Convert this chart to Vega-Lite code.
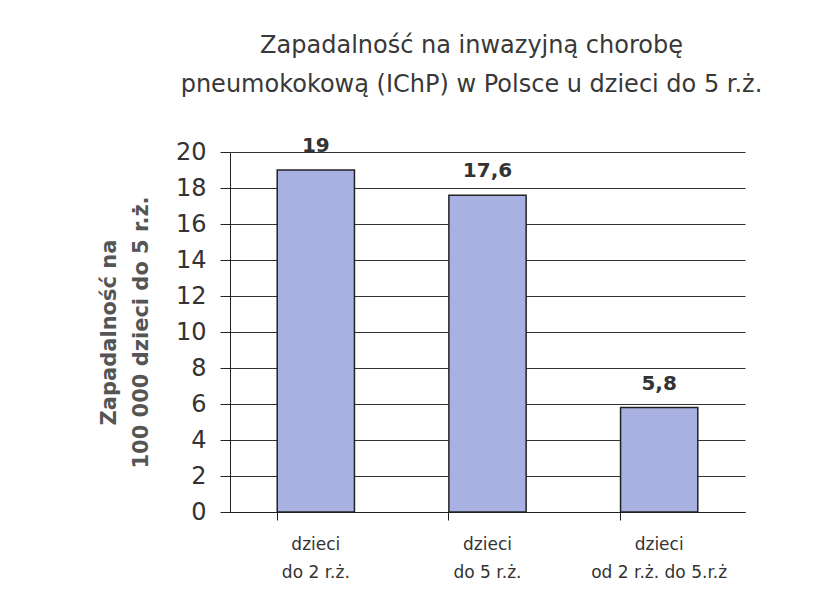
{
  "$schema": "https://vega.github.io/schema/vega-lite/v6.json",
  "autosize": {"type": "none"},
  "padding": {"left": 230, "top": 152, "right": 69, "bottom": 93},
  "width": 515,
  "height": 360,
  "background": "white",
  "title": {
    "text": ["Zapadalność  na inwazyjną chorobę", "pneumokokową (IChP) w Polsce u dzieci do 5 r.ż."],
    "font": "DejaVu Sans",
    "fontSize": 24,
    "fontWeight": "normal",
    "color": "#383838",
    "lineHeight": 39,
    "anchor": "middle",
    "offset": 39,
    "dx": -16
  },
  "data": {
    "values": [
      {"grupa": "dzieci|do 2 r.ż.", "wartosc": 19, "etykieta": "19"},
      {"grupa": "dzieci|do 5 r.ż.", "wartosc": 17.6, "etykieta": "17,6"},
      {"grupa": "dzieci|od 2 r.ż. do 5.r.ż", "wartosc": 5.8, "etykieta": "5,8"}
    ]
  },
  "encoding": {
    "x": {
      "field": "grupa",
      "type": "nominal",
      "sort": null,
      "scale": {"paddingInner": 0.55, "paddingOuter": 0.275},
      "axis": {
        "title": null,
        "labelAngle": 0,
        "labelExpr": "split(datum.label, '|')",
        "labelFont": "DejaVu Sans",
        "labelFontSize": 17,
        "labelColor": "#333333",
        "labelLineHeight": 28,
        "labelPadding": 16,
        "bandPosition": 0,
        "ticks": true,
        "tickSize": 8,
        "tickColor": "#222222",
        "domainColor": "#222222",
        "grid": false
      }
    },
    "y": {
      "field": "wartosc",
      "type": "quantitative",
      "scale": {"domain": [0, 20]},
      "axis": {
        "title": ["Zapadalność na", "100 000 dzieci do 5 r.ż."],
        "titleFont": "DejaVu Sans",
        "titleFontSize": 21,
        "titleFontWeight": "bold",
        "titleColor": "#555555",
        "titleLineHeight": 32,
        "titlePadding": 24,
        "values": [0, 2, 4, 6, 8, 10, 12, 14, 16, 18, 20],
        "labelFont": "DejaVu Sans",
        "labelFontSize": 24,
        "labelColor": "#333333",
        "labelPadding": 14,
        "tickSize": 10,
        "tickColor": "#222222",
        "domainColor": "#222222",
        "grid": true,
        "gridColor": "#333333",
        "gridWidth": 1
      }
    }
  },
  "layer": [
    {
      "mark": {"type": "bar", "color": "#a9b1e2", "stroke": "#222222", "strokeWidth": 1.5}
    },
    {
      "mark": {"type": "text", "dy": -24, "font": "DejaVu Sans", "fontSize": 20, "fontWeight": "bold", "color": "#333333"},
      "encoding": {"text": {"field": "etykieta"}}
    }
  ],
  "config": {"view": {"stroke": null}}
}
